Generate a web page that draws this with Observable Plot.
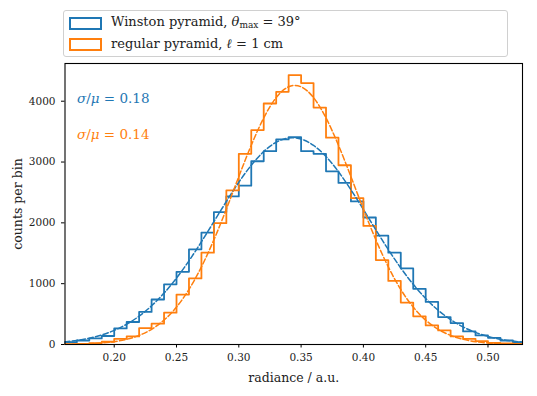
<!DOCTYPE html>
<html><head><meta charset="utf-8">
<script src="https://cdn.jsdelivr.net/npm/d3@7"></script>
<script src="https://cdn.jsdelivr.net/npm/@observablehq/plot@0.6"></script>
<style>
body{margin:0;background:#fff;}
#wrap{position:relative;width:537px;height:396px;font-family:"DejaVu Serif",serif;color:#222;}
#wrap svg{position:absolute;left:0;top:0;}
.legend{position:absolute;left:63px;top:10px;width:445px;height:47px;border:1px solid #d0d0d0;border-radius:3px;background:rgba(255,255,255,0.85);box-sizing:border-box;}
.row{position:absolute;left:0;height:20px;width:100%;}
.patch{position:absolute;left:5px;width:29px;height:9px;border:2px solid;}
.ltext{position:absolute;left:47px;font-size:13px;line-height:20px;white-space:nowrap;}
.ltext sub{font-size:9px;vertical-align:-2px;line-height:0;}
.ann{position:absolute;left:77px;font-size:13.5px;white-space:nowrap;line-height:16px;}
</style></head>
<body><div id="wrap"></div>
<script>
// bin left edges (bin width 0.01); last entry is the closing edge
const binEdges = [0.16,0.17,0.18,0.19,0.20,0.21,0.22,0.23,0.24,0.25,0.26,0.27,0.28,0.29,0.30,0.31,0.32,0.33,0.34,0.35,0.36,0.37,0.38,0.39,0.40,0.41,0.42,0.43,0.44,0.45,0.46,0.47,0.48,0.49,0.50,0.51,0.52,0.53];
const winstonCounts = [38,66,100,140,265,370,535,740,990,1195,1565,1840,2177,2435,2612,3013,3178,3372,3410,3178,3135,2848,2656,2352,2088,1790,1509,1251,915,700,451,352,215,149,110,66,38];
const regularCounts = [4,10,22,45,94,132,270,342,524,821,1086,1509,1995,2534,3135,3526,3962,4154,4430,4298,3895,3400,2947,2408,1950,1388,1046,689,463,314,231,132,94,55,28,17,8];
// dashed fit curves, sampled at the bin edges
const winstonFit = [42,67,104,157,232,333,466,636,845,1092,1376,1689,2019,2351,2667,2947,3172,3325,3396,3378,3273,3090,2840,2543,2219,1885,1560,1258,989,756,563,410,289,199,134,87,56,35];
const regularFit = [3,6,12,25,47,86,150,250,401,615,905,1276,1721,2226,2760,3276,3725,4059,4237,4237,4059,3725,3276,2760,2226,1721,1276,905,615,401,250,150,86,47,25,12,6,3];
const xTicks = [0.20,0.25,0.30,0.35,0.40,0.45,0.50];
const yTicks = [0,1000,2000,3000,4000];
const seriesNames = ["Winston pyramid", "regular pyramid"];
const colors = ["#1f77b4", "#ff7f0e"];

function stepData(counts){
  const pts = [{x: binEdges[0], y: 0}];
  counts.forEach((c,i)=>pts.push({x: binEdges[i], y: c}));
  pts.push({x: binEdges[binEdges.length-1], y: counts[counts.length-1]});
  pts.push({x: binEdges[binEdges.length-1], y: 0});
  return pts;
}
const fitData = (vals) => vals.map((v,i)=>({x: binEdges[i], y: v}));

const plot = Plot.plot({
  width: 537, height: 396,
  marginLeft: 64.5, marginRight: 15, marginTop: 63, marginBottom: 52,
  style: {fontFamily: '"DejaVu Serif", serif', fontSize: "10.5px", color: "#222", background: "transparent"},
  x: {domain: [0.1605, 0.5277]},
  y: {domain: [0, 4620]},
  marks: [
    Plot.line(stepData(winstonCounts), {x:"x", y:"y", curve:"step-after", stroke: colors[0], strokeWidth: 1.8, clip: true}),
    Plot.line(stepData(regularCounts), {x:"x", y:"y", curve:"step-after", stroke: colors[1], strokeWidth: 1.8, clip: true}),
    Plot.line(fitData(winstonFit), {x:"x", y:"y", curve:"natural", stroke: colors[0], strokeWidth: 1.5, strokeDasharray: "5.5,2.4", clip: true}),
    Plot.line(fitData(regularFit), {x:"x", y:"y", curve:"natural", stroke: colors[1], strokeWidth: 1.5, strokeDasharray: "5.5,2.4", clip: true}),
    Plot.frame({stroke: "#000", strokeWidth: 1.1}),
    Plot.axisX({ticks: xTicks, tickFormat: d3.format(".2f"), tickSize: 3.5, tickPadding: 6, stroke:"#000", label: "radiance / a.u.", labelArrow: "none", labelAnchor: "center", labelOffset: 37, fontSize: 10.5}),
    Plot.axisY({ticks: yTicks, tickFormat: d => String(d), tickSize: 3.5, tickPadding: 6, stroke:"#000", label: "counts per bin", labelArrow: "none", labelAnchor: "center", labelOffset: 52, fontSize: 10.5})
  ]
});
const wrap = document.getElementById("wrap");
wrap.appendChild(plot);
// enlarge axis labels and drop any arrow glyphs
d3.select(plot).selectAll("g[aria-label='x-axis label'] text, g[aria-label='y-axis label'] text")
  .style("font-size","12.5px")
  .each(function(){ this.textContent = this.textContent.replace(/\s*[↑→←↓]\s*/g, ""); });

const legend = document.createElement("div");
legend.className = "legend";
legend.innerHTML = `
<div class="row" style="top:1px"><div class="patch" style="top:5px;border-color:${colors[0]}"></div>
<div class="ltext">${seriesNames[0]}, <i>θ</i><sub>max</sub> = 39°</div></div>
<div class="row" style="top:23px"><div class="patch" style="top:4px;border-color:${colors[1]}"></div>
<div class="ltext">${seriesNames[1]}, <i>ℓ</i> = 1 cm</div></div>`;
wrap.appendChild(legend);

const ann = [["0.18", colors[0], 90], ["0.14", colors[1], 126]];
ann.forEach(([v,c,t])=>{
  const d = document.createElement("div");
  d.className = "ann"; d.style.top = t+"px"; d.style.color = c;
  d.innerHTML = `<i>σ</i>/<i>μ</i> = ${v}`;
  wrap.appendChild(d);
});
</script></body></html>
